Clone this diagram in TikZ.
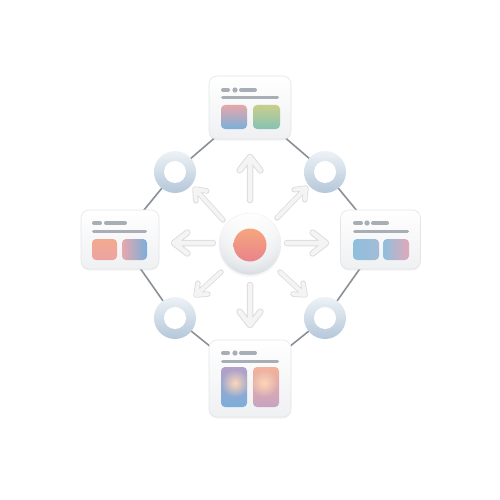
\documentclass[tikz,border=0pt]{standalone}
\usetikzlibrary{backgrounds,fadings,shadows,calc}
\definecolor{linegray}{HTML}{8B9097}
\definecolor{bargray}{HTML}{A9AEB6}
\definecolor{cardedge}{HTML}{E4E5E8}
\definecolor{cardbot}{HTML}{EFF0F2}
\definecolor{ringtop}{HTML}{EDF2F6}
\definecolor{ringbot}{HTML}{B4C7D9}
\definecolor{discmid}{HTML}{EEF0F3}
\definecolor{discedge}{HTML}{D3D8DE}
\definecolor{orangetop}{HTML}{F5A67D}
\definecolor{orangebot}{HTML}{E9838C}
\definecolor{arrout}{HTML}{DDDDDD}
\definecolor{arrin}{HTML}{F4F4F4}
\definecolor{pinkA}{HTML}{E6A7AA}
\definecolor{blueA}{HTML}{7AAFDA}
\definecolor{yellowA}{HTML}{C9CF8B}
\definecolor{tealA}{HTML}{86C1B4}
\definecolor{salmonA}{HTML}{F3A98F}
\definecolor{salmonB}{HTML}{EBA4A2}
\definecolor{pinkB}{HTML}{E7A7AE}
\definecolor{blueB}{HTML}{8EBFDC}
\definecolor{blueC}{HTML}{A3BCD7}
\definecolor{pinkC}{HTML}{E1A9B8}
\definecolor{lavA}{HTML}{B3A0C9}
\definecolor{peachA}{HTML}{F3B29A}
\definecolor{mauveA}{HTML}{C6A2C3}
\definecolor{glowA}{HTML}{FDD6B8}
\tikzfading[name=glowfade, inner color=transparent!0, outer color=transparent!100]
\tikzfading[name=rimfade, inner color=transparent!100, outer color=transparent!0]
\tikzset{
  card/.style={rectangle, rounded corners=8pt, draw=cardedge, line width=0.6pt,
    top color=white, bottom color=cardbot, inner sep=0pt, outer sep=0pt,
    drop shadow={opacity=0.10, shadow xshift=0pt, shadow yshift=-1.5pt}},
  ringnode/.style={circle, minimum size=42pt, inner sep=0pt, outer sep=0pt},
  hubnode/.style={circle, minimum size=62pt, inner sep=0pt, outer sep=0pt},
  conn/.style={draw=linegray, line width=1.6pt},
  bar/.style={draw=bargray, line width=4pt, line cap=round},
  thinbar/.style={draw=bargray, line width=3pt, line cap=round},
  panel/.style={rounded corners=4pt},
  arrA/.style={draw=arrout, line width=#1, line cap=round, line join=round},
  arrB/.style={draw=arrin, line width=#1, line cap=round, line join=round},
}
\newcommand{\softarrow}[5]{% tail, head, arm, outer w, inner w
  \draw[arrA=#4] (#1) -- (#2) ($(#2)!#3!38:(#1)$) -- (#2) -- ($(#2)!#3!-38:(#1)$);
  \draw[arrB=#5] (#1) -- (#2) ($(#2)!#3!38:(#1)$) -- (#2) -- ($(#2)!#3!-38:(#1)$);
}
\begin{document}
\begin{tikzpicture}[x=1pt,y=-1pt]
\useasboundingbox (0,0) rectangle (500,500);

% cards
\node[card, minimum width=82pt, minimum height=63pt] (T) at (250,107.5) {};
\node[card, minimum width=78pt, minimum height=59pt] (L) at (120,239.5) {};
\node[card, minimum width=80pt, minimum height=59pt] (R) at (380.5,239.5) {};
\node[card, minimum width=82pt, minimum height=77pt] (B) at (250,378.5) {};

% rings
\node[ringnode] (r1) at (175,172) {};
\node[ringnode] (r2) at (325,172) {};
\node[ringnode] (r3) at (175,318) {};
\node[ringnode] (r4) at (325,318) {};
\foreach \r in {r1,r2,r3,r4}{
  \shade[top color=ringtop, bottom color=ringbot] (\r.center) circle (21);
  \fill[white] (\r.center) circle (11);
}

% connectors behind
\begin{scope}[on background layer]
  \draw[conn] (T.center) -- (r1.center) -- (L.center);
  \draw[conn] (T.center) -- (r2.center) -- (R.center);
  \draw[conn] (L.center) -- (r3.center) -- (B.center);
  \draw[conn] (R.center) -- (r4.center) -- (B.center);
\end{scope}

% hub
\node[hubnode] (C) at (250,244) {};
\fill[white, drop shadow={opacity=0.08, shadow xshift=0pt, shadow yshift=-2pt}] (C.center) circle (31);
\shade[top color=white, bottom color=discedge] (C.center) circle (31);
\fill[white, path fading=glowfade] ($(C.center)+(0,-3)$) circle (38);
\draw[white!88!gray, line width=0.5pt] (C.center) circle (31);
\shade[top color=orangetop, bottom color=orangebot] ($(C.center)+(0,1)$) circle (16.5);

% arrows
\coordinate (aUt) at (250,200); \coordinate (aUh) at (250,157);
\coordinate (aLt) at (213,243); \coordinate (aLh) at (174,243);
\coordinate (aRt) at (287,243); \coordinate (aRh) at (326,243);
\coordinate (aDt) at (250,285); \coordinate (aDh) at (250,325);
\coordinate (aULt) at (223,220); \coordinate (aULh) at (195,189);
\coordinate (aURt) at (277,218); \coordinate (aURh) at (306,188);
\coordinate (aDLt) at (221,272); \coordinate (aDLh) at (196,295);
\coordinate (aDRt) at (280,272); \coordinate (aDRh) at (305,295);
\softarrow{aUt}{aUh}{17pt}{6.5pt}{4.5pt}
\softarrow{aLt}{aLh}{17pt}{6.5pt}{4.5pt}
\softarrow{aRt}{aRh}{17pt}{6.5pt}{4.5pt}
\softarrow{aDt}{aDh}{17pt}{6.5pt}{4.5pt}
\softarrow{aULt}{aULh}{12pt}{5.5pt}{3.8pt}
\softarrow{aURt}{aURh}{12pt}{5.5pt}{3.8pt}
\softarrow{aDLt}{aDLh}{12pt}{5.5pt}{3.8pt}
\softarrow{aDRt}{aDRh}{12pt}{5.5pt}{3.8pt}

% top card content
\begin{scope}[shift={(T.center)}]
  \draw[bar] (-27,-17.5) -- (-22,-17.5);
  \fill[bargray] (-15,-17.5) circle (2.6);
  \draw[bar] (-9,-17.5) -- (5,-17.5);
  \draw[thinbar] (-27.5,-10) -- (27.5,-10);
  \shade[panel, top color=pinkA, bottom color=blueA] (-29,-2.5) rectangle (-3,21.5);
  \shade[panel, top color=yellowA, bottom color=tealA] (3,-2.5) rectangle (30,21.5);
\end{scope}

% left card content
\begin{scope}[shift={(L.center)}]
  \draw[bar] (-26,-16.5) -- (-20,-16.5);
  \draw[bar] (-14,-16.5) -- (5,-16.5);
  \draw[thinbar] (-26.5,-8.5) -- (25.5,-8.5);
  \shade[panel, top color=salmonA, bottom color=salmonB] (-28,-0.5) rectangle (-3,20.5);
  \shade[panel, shading angle=45, left color=pinkB, right color=blueA] (2,-0.5) rectangle (27,20.5);
\end{scope}

% right card content
\begin{scope}[shift={(R.center)}]
  \draw[bar] (-25.5,-16.5) -- (-19.5,-16.5);
  \fill[bargray] (-13.5,-16.5) circle (2.6);
  \draw[bar] (-7.5,-16.5) -- (6.5,-16.5);
  \draw[thinbar] (-26,-8.5) -- (27,-8.5);
  \shade[panel, left color=blueB, right color=blueC] (-27.5,-0.5) rectangle (-1.5,20.5);
  \shade[panel, left color=blueB, right color=pinkC] (2.5,-0.5) rectangle (28.5,20.5);
\end{scope}

% bottom card content
\begin{scope}[shift={(B.center)}]
  \draw[bar] (-27,-25.5) -- (-22,-25.5);
  \fill[bargray] (-15,-25.5) circle (2.6);
  \draw[bar] (-9,-25.5) -- (5,-25.5);
  \draw[thinbar] (-27.5,-17.5) -- (27.5,-17.5);
  \shade[panel, top color=lavA, bottom color=blueA] (-29,-11.5) rectangle (-3,28.5);
  \shade[panel, top color=peachA, bottom color=mauveA] (3,-11.5) rectangle (29,28.5);
  \fill[glowA, path fading=glowfade] (-15,4.5) circle (14);
  \fill[glowA, path fading=glowfade] (14,4.5) circle (14);
\end{scope}
\end{tikzpicture}
\end{document}
